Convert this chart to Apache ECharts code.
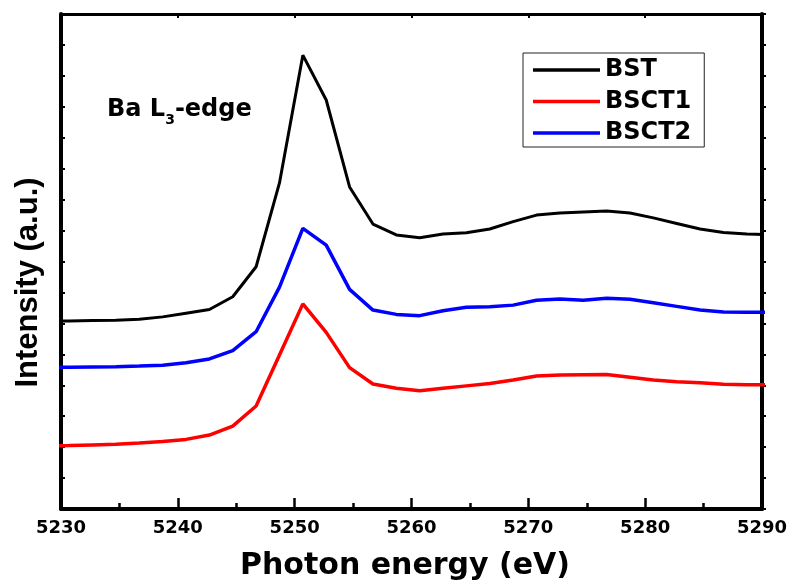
<!DOCTYPE html>
<html>
<head>
<meta charset="utf-8">
<script src="https://cdn.jsdelivr.net/npm/echarts@6/dist/echarts.min.js"></script>
<style>
html,body{margin:0;padding:0;background:#fff;}
#chart{width:793px;height:586px;}
</style>
</head>
<body>
<div id="chart"></div>
<script>
// Photon energy (eV)
var energy = [5228.7,5230.7,5232.7,5234.7,5236.7,5238.7,5240.7,5242.7,5244.7,5246.7,5248.7,5250.7,5252.7,5254.7,5256.7,5258.7,5260.7,5262.7,5264.7,5266.7,5268.7,5270.7,5272.7,5274.7,5276.7,5278.7,5280.7,5282.7,5284.7,5286.7,5288.7,5290.7];
// Intensity (a.u.), offset curves
var bst   = [0.608,0.608,0.609,0.610,0.613,0.621,0.633,0.645,0.686,0.783,1.054,1.467,1.322,1.041,0.921,0.886,0.877,0.889,0.893,0.905,0.929,0.950,0.957,0.960,0.963,0.957,0.941,0.923,0.905,0.894,0.889,0.887];
var bsct1 = [0.204,0.205,0.207,0.209,0.213,0.218,0.225,0.239,0.268,0.333,0.498,0.663,0.571,0.457,0.404,0.390,0.382,0.390,0.398,0.406,0.417,0.430,0.433,0.434,0.435,0.426,0.417,0.411,0.408,0.403,0.402,0.402];
var bsct2 = [0.458,0.458,0.459,0.460,0.462,0.465,0.473,0.485,0.512,0.573,0.717,0.907,0.853,0.710,0.643,0.629,0.625,0.641,0.652,0.654,0.659,0.675,0.679,0.675,0.681,0.678,0.667,0.655,0.643,0.637,0.636,0.636];
var seriesNames = ['BST','BSCT1','BSCT2'];
var xTicks = {min:5230, max:5290, interval:10};

function pairs(ys){ return energy.map(function(x,i){ return [x, ys[i]]; }); }

var chart = echarts.init(document.getElementById('chart'), null, {renderer:'canvas'});
var hFont = 'DejaVu Sans';
chart.setOption({
  animation:false,
  backgroundColor:'#fff',
  grid:{left:61, right:31, top:14, bottom:77},
  legend:{
    data:seriesNames,
    orient:'vertical',
    left:523, top:53,
    padding:[5,13,2,10],
    icon:'rect',
    itemWidth:67, itemHeight:3.5, itemGap:7.5,
    borderColor:'#222', borderWidth:1,
    textStyle:{fontFamily:hFont, fontWeight:'bold', fontSize:24, color:'#000', lineHeight:24}
  },
  graphic:[{
    type:'text', left:107, top:93,
    style:{
      text:'{a|Ba L}{s|3}{a|-edge}',
      rich:{
        a:{fontFamily:hFont, fontWeight:'bold', fontSize:24, lineHeight:24, fill:'#000'},
        s:{fontFamily:hFont, fontWeight:'bold', fontSize:14, lineHeight:14, padding:[20,0,0,0], fill:'#000'}
      }
    }
  }],
  xAxis:[{
    type:'value', position:'bottom', min:xTicks.min, max:xTicks.max, interval:xTicks.interval,
    name:'Photon energy (eV)', nameLocation:'middle', nameGap:42,
    nameTextStyle:{fontFamily:hFont, fontWeight:'bold', fontSize:30, color:'#000', padding:[0,13,0,0]},
    axisLine:{show:true, onZero:false, lineStyle:{color:'#000', width:4}},
    axisTick:{show:true, inside:true, length:11, lineStyle:{color:'#000', width:2.5}},
    minorTick:{show:true, splitNumber:2, length:6, lineStyle:{color:'#000', width:2.5}},
    axisLabel:{fontFamily:hFont, fontWeight:'bold', fontSize:18, color:'#000', margin:10,
               formatter:function(v){ return String(v); }},
    splitLine:{show:false}
  },{
    type:'value', position:'top', min:xTicks.min, max:xTicks.max, interval:xTicks.interval,
    axisLine:{show:true, onZero:false, lineStyle:{color:'#000', width:3}},
    axisTick:{show:true, inside:true, length:4, lineStyle:{color:'#000', width:2}},
    minorTick:{show:false},
    axisLabel:{show:false},
    splitLine:{show:false}
  }],
  yAxis:[{
    type:'value', position:'left', min:0, max:1.6, interval:0.1,
    name:'Intensity (a.u.)', nameLocation:'middle', nameGap:17, nameRotate:90,
    nameTextStyle:{fontFamily:"'Liberation Sans', Arial", fontWeight:'bold', fontSize:31, color:'#000', padding:[0,42,0,0]},
    axisLine:{show:true, onZero:false, lineStyle:{color:'#000', width:4}},
    axisTick:{show:true, inside:true, length:4, lineStyle:{color:'#000', width:2}},
    axisLabel:{show:false},
    splitLine:{show:false}
  },{
    type:'value', position:'right', min:0, max:1.6, interval:0.1,
    axisLine:{show:true, onZero:false, lineStyle:{color:'#000', width:4}},
    axisTick:{show:true, inside:false, length:4, lineStyle:{color:'#000', width:2}},
    axisLabel:{show:false},
    splitLine:{show:false}
  }],
  series:[
    {name:seriesNames[0], type:'line', data:pairs(bst), symbol:'none', smooth:false, clip:true,
     lineStyle:{color:'#000000', width:3}, itemStyle:{color:'#000000'}, z:4},
    {name:seriesNames[1], type:'line', data:pairs(bsct1), symbol:'none', smooth:false, clip:true,
     lineStyle:{color:'#ff0000', width:3.5}, itemStyle:{color:'#ff0000'}, z:3},
    {name:seriesNames[2], type:'line', data:pairs(bsct2), symbol:'none', smooth:false, clip:true,
     lineStyle:{color:'#0000ff', width:3.5}, itemStyle:{color:'#0000ff'}, z:3}
  ]
});
</script>
</body>
</html>
